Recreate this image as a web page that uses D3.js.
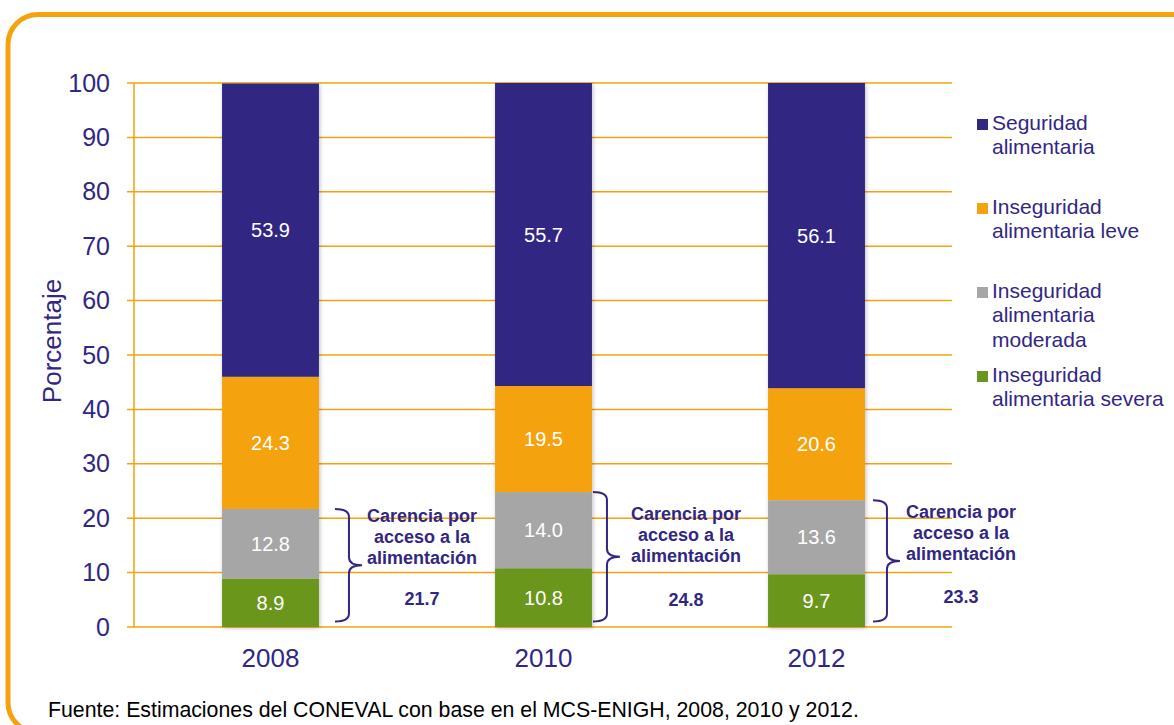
<!DOCTYPE html>
<html>
<head>
<meta charset="utf-8">
<script src="https://cdn.jsdelivr.net/npm/d3@7"></script>
<style>
  html, body { margin: 0; padding: 0; background: #fff; }
  svg { display: block; font-family: "Liberation Sans", Arial, sans-serif; }
</style>
</head>
<body>
<svg id="chart" width="1174" height="725"></svg>
<script>
// ---- data ----
const years = ["2008", "2010", "2012"];
const severa = [8.9, 10.8, 9.7];
const moderada = [12.8, 14.0, 13.6];
const leve = [24.3, 19.5, 20.6];
const seguridad = [53.9, 55.7, 56.1];
const carencia = [21.7, 24.8, 23.3];
const yTicks = [0, 10, 20, 30, 40, 50, 60, 70, 80, 90, 100];
const seriesNames = ["Inseguridad alimentaria severa", "Inseguridad alimentaria moderada", "Inseguridad alimentaria leve", "Seguridad alimentaria"];
const legendLines = [["Seguridad", "alimentaria"], ["Inseguridad", "alimentaria leve"], ["Inseguridad", "alimentaria", "moderada"], ["Inseguridad", "alimentaria severa"]];
const carenciaLines = ["Carencia por", "acceso a la", "alimentación"];
const yTitle = "Porcentaje";
const source = "Fuente: Estimaciones del CONEVAL con base en el MCS-ENIGH, 2008, 2010 y 2012.";

// ---- styles / layout ----
const colors = ["#6a961f", "#a6a6a6", "#f4a20e", "#312783"];
const textColor = "#312783";
const gridColor = "#f4a20e";
const fontFam = "'Liberation Sans', Arial, sans-serif";
const braceDx = [16, 1, 8];
const textDx = [103, 94, 96];
const textY = [522, 520, 518];
const valueY = [605, 606, 603];

const svg = d3.select("#chart");
const margin = { left: 134, right: 221, top: 83, bottom: 98 };
const W = 1174, H = 725;

// border
svg.append("rect")
  .attr("x", 8).attr("y", 14.5).attr("width", 1200).attr("height", 718)
  .attr("rx", 30).attr("ry", 30)
  .attr("fill", "none").attr("stroke", "#f4a20e").attr("stroke-width", 5);

const defs = svg.append("defs");
const f = defs.append("filter").attr("id", "shadow").attr("x", "-10%").attr("y", "-5%").attr("width", "120%").attr("height", "110%");
f.append("feDropShadow").attr("dx", 1).attr("dy", 1).attr("stdDeviation", 2)
  .attr("flood-color", "#000").attr("flood-opacity", 0.25);

const x = d3.scaleBand().domain(years).range([margin.left, W - margin.right]).paddingInner(0.645).paddingOuter(0.3225);
const y = d3.scaleLinear().domain([0, 100]).range([H - margin.bottom, margin.top]);

// grid lines
svg.append("g").selectAll("line").data(yTicks).join("line")
  .attr("x1", margin.left - 7).attr("x2", W - margin.right - 1)
  .attr("y1", d => y(d)).attr("y2", d => y(d))
  .attr("stroke", gridColor).attr("stroke-width", 1.5);

// y axis line
svg.append("line").attr("x1", margin.left).attr("x2", margin.left)
  .attr("y1", y(0)).attr("y2", y(100)).attr("stroke", gridColor).attr("stroke-width", 1.5);

// y tick labels
const yAxis = d3.axisLeft(y).tickValues(yTicks).tickSize(0).tickPadding(24);
const yg = svg.append("g").attr("transform", `translate(${margin.left},0)`).call(yAxis);
yg.select(".domain").remove();
yg.selectAll("text").attr("fill", textColor).attr("font-size", 25).attr("font-family", fontFam);

// y title
svg.append("text").attr("transform", `translate(61,341) rotate(-90)`)
  .attr("text-anchor", "middle").attr("font-size", 26).attr("fill", textColor).text(yTitle);

// x labels
const xAxis = d3.axisBottom(x).tickSize(0).tickPadding(22);
const xg = svg.append("g").attr("transform", `translate(0,${y(0)})`).call(xAxis);
xg.select(".domain").remove();
xg.selectAll("text").attr("fill", textColor).attr("font-size", 26).attr("font-family", fontFam);

// stacked bars
const table = years.map((yr, i) => ({ year: yr, s0: severa[i], s1: moderada[i], s2: leve[i], s3: seguridad[i] }));
const stack = d3.stack().keys(["s0", "s1", "s2", "s3"]);
const stacked = stack(table);

const barG = svg.append("g").attr("filter", "url(#shadow)");
stacked.forEach((layer, k) => {
  barG.selectAll(null).data(layer).join("rect")
    .attr("x", d => x(d.data.year)).attr("width", x.bandwidth())
    .attr("y", d => y(d[1])).attr("height", d => y(d[0]) - y(d[1]))
    .attr("fill", colors[k]);
});
stacked.forEach((layer, k) => {
  svg.append("g").selectAll("text").data(layer).join("text")
    .attr("x", d => x(d.data.year) + x.bandwidth() / 2)
    .attr("y", d => (y(d[0]) + y(d[1])) / 2)
    .attr("dy", "0.36em")
    .attr("text-anchor", "middle").attr("font-size", 20).attr("fill", "#fff")
    .text(d => (d[1] - d[0]).toFixed(1));
});

// braces and annotations
years.forEach((yr, i) => {
  const right = x(yr) + x.bandwidth();
  const x0 = right + braceDx[i], x1 = x0 + 14, x2 = x1 + 13;
  const yt = y(carencia[i]), yb = y(1), ym = (yt + yb) / 2;
  const r = 8;
  const p = d3.path();
  p.moveTo(x0, yt);
  p.quadraticCurveTo(x1, yt, x1, yt + r);
  p.lineTo(x1, ym - r);
  p.quadraticCurveTo(x1, ym, x2, ym);
  p.moveTo(x2, ym);
  p.quadraticCurveTo(x1, ym, x1, ym + r);
  p.lineTo(x1, yb - r);
  p.quadraticCurveTo(x1, yb, x0, yb);
  svg.append("path").attr("d", p.toString()).attr("fill", "none")
    .attr("stroke", textColor).attr("stroke-width", 2);

  const cx = right + textDx[i];
  carenciaLines.forEach((ln, j) => {
    svg.append("text").attr("x", cx).attr("y", textY[i] + j * 21)
      .attr("text-anchor", "middle").attr("font-size", 18).attr("font-weight", "bold")
      .attr("fill", textColor).text(ln);
  });
  svg.append("text").attr("x", cx).attr("y", valueY[i])
    .attr("text-anchor", "middle").attr("font-size", 18).attr("font-weight", "bold")
    .attr("fill", textColor).text(carencia[i].toFixed(1));
});

// legend
const legendColors = [colors[3], colors[2], colors[1], colors[0]];
legendLines.forEach((lines, i) => {
  const base = 130 + i * 84;
  svg.append("rect").attr("x", 977).attr("y", base - 11).attr("width", 11).attr("height", 11)
    .attr("fill", legendColors[i]);
  lines.forEach((ln, j) => {
    svg.append("text").attr("x", 992).attr("y", base + j * 24.3)
      .attr("font-size", 21).attr("fill", textColor).text(ln);
  });
});

// source
svg.append("text").attr("x", 48).attr("y", 717).attr("font-size", 21.3).attr("fill", "#000").text(source);
</script>
</body>
</html>
